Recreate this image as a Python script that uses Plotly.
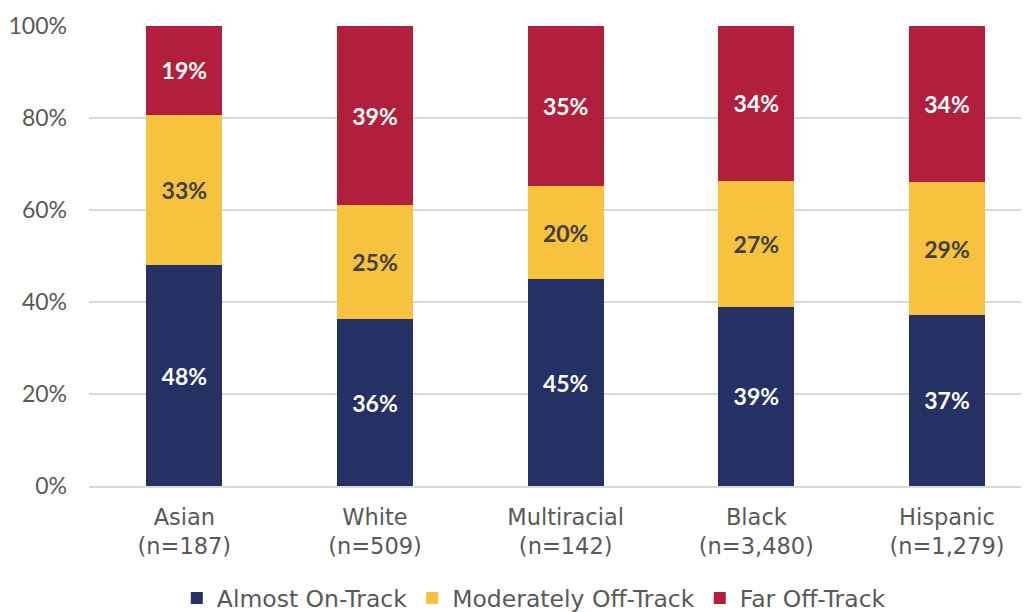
import plotly.graph_objects as go

categories = ["Asian<br>(n=187)", "White<br>(n=509)", "Multiracial<br>(n=142)", "Black<br>(n=3,480)", "Hispanic<br>(n=1,279)"]
almost_on_track = [48.0, 36.2, 44.9, 39.0, 37.2]
moderately_off = [32.7, 24.8, 20.4, 27.4, 28.8]
far_off = [19.3, 39.0, 34.7, 33.6, 34.0]
y_ticks = [0, 20, 40, 60, 80, 100]
y_tick_labels = ["0%", "20%", "40%", "60%", "80%", "100%"]

NUM_FONT = "Lato"
TXT_FONT = "DejaVu Sans"
GRAY = "#595959"
series = [
    ("Almost On-Track", almost_on_track, "#253065", "white"),
    ("Moderately Off-Track", moderately_off, "#F7C23E", "#404040"),
    ("Far Off-Track", far_off, "#B21F3C", "white"),
]

fig = go.Figure()
for name, vals, color, tcolor in series:
    fig.add_trace(go.Bar(
        name=name, x=categories, y=vals,
        marker=dict(color=color, line=dict(width=0)),
        width=0.4,
        texttemplate="<b>%{y:.0f}%</b>",
        textposition="inside", insidetextanchor="middle",
        textfont=dict(family=NUM_FONT, size=23, color=tcolor),
        textangle=0,
        hoverinfo="skip",
    ))

fig.update_layout(
    barmode="stack",
    width=1021, height=604,
    margin=dict(l=81, r=0, t=18, b=126),
    paper_bgcolor="white", plot_bgcolor="white",
    font=dict(family=TXT_FONT, size=22, color=GRAY),
    legend=dict(orientation="h", xref="container", x=0.515, xanchor="center",
                yref="container", y=0.023, yanchor="middle",
                font=dict(family=TXT_FONT, size=23.5, color=GRAY),
                itemwidth=30, traceorder="normal", itemclick=False),
    showlegend=True,
)
fig.update_xaxes(range=[-0.5, 4.43], showgrid=False, showline=True, linecolor="#D9D9D9",
                 linewidth=1.5, ticks="", automargin=False, ticklabelstandoff=10,
                 tickfont=dict(family=TXT_FONT, size=22.5, color=GRAY))
fig.update_yaxes(range=[0, 100], tickvals=y_ticks, ticktext=y_tick_labels, showgrid=True,
                 gridcolor="#D9D9D9", gridwidth=1.5, zeroline=False, showline=False, ticks="",
                 automargin=False,
                 tickfont=dict(family=NUM_FONT, size=23, color=GRAY), ticklabelstandoff=21)

fig.write_html("out.html")
